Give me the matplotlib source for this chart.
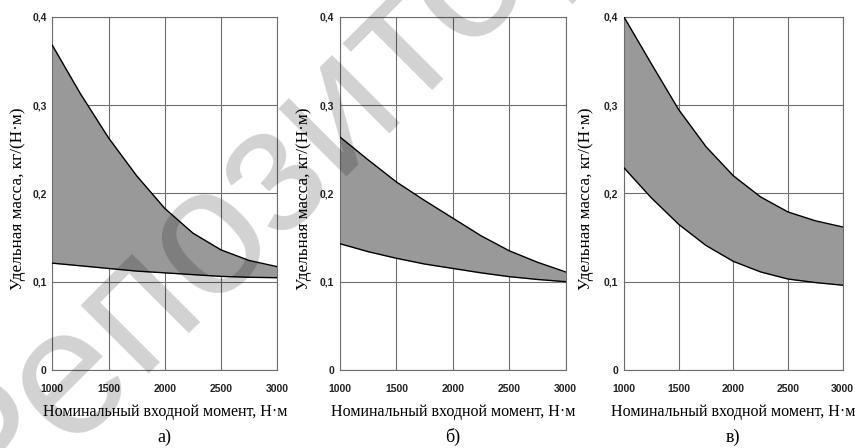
import matplotlib
matplotlib.use("Agg")
import matplotlib.pyplot as plt
import numpy as np

# torque points, N*m
torque = [1000, 1250, 1500, 1750, 2000, 2250, 2500, 2750, 3000]

# panel a)
upper_a = [0.368, 0.313, 0.263, 0.220, 0.183, 0.155, 0.136, 0.124, 0.117]
lower_a = [0.121, 0.118, 0.115, 0.112, 0.110, 0.108, 0.106, 0.105, 0.1045]

# panel б)
upper_b = [0.264, 0.238, 0.213, 0.192, 0.172, 0.152, 0.135, 0.122, 0.111]
lower_b = [0.143, 0.134, 0.1265, 0.120, 0.115, 0.110, 0.1057, 0.1025, 0.100]

# panel в)
upper_c = [0.400, 0.347, 0.295, 0.253, 0.220, 0.196, 0.179, 0.169, 0.162]
lower_c = [0.229, 0.195, 0.165, 0.141, 0.123, 0.111, 0.103, 0.099, 0.096]

x_ticks = [1000, 1500, 2000, 2500, 3000]
y_ticks = [0, 0.1, 0.2, 0.3, 0.4]
y_tick_labels = ["0", "0,1", "0,2", "0,3", "0,4"]

xlabel = "Номинальный входной момент, Н·м"
ylabel = "Удельная масса, кг/(Н·м)"
panel_names = ["а)", "б)", "в)"]
watermark = "Репозиторий"

serif = ["Liberation Serif", "DejaVu Serif"]
sans = ["Liberation Sans", "DejaVu Sans"]

fig = plt.figure(figsize=(8.55, 4.48), dpi=100)

W, H = 855, 448
boxes = [  # left, right pixel of each axes
  (52.3, 277.3),
  (340.0, 565.7),
  (624.0, 842.7),
]
top_px, bot_px = 17.0, 369.9

panels = [(upper_a, lower_a), (upper_b, lower_b), (upper_c, lower_c)]
ylab_x = [18, 304, 586]

for i, ((up, lo), (l, r)) in enumerate(zip(panels, boxes)):
  ax = fig.add_axes([l / W, 1 - bot_px / H, (r - l) / W, (bot_px - top_px) / H])
  ax.fill_between(torque, lo, up, color="#999999", lw=0, zorder=2)
  ax.plot(torque, up, color="black", lw=1.0, zorder=3)
  ax.plot(torque, lo, color="black", lw=1.0, zorder=3)

  ax.set_xlim(1000, 3000)
  ax.set_ylim(0, 0.4)
  ax.set_xticks(x_ticks)
  ax.set_yticks(y_ticks)
  ax.set_xticklabels([str(t) for t in x_ticks], family=sans, fontsize=7.5,
                     weight="bold", color="#222222")
  ax.set_yticklabels(y_tick_labels, family=sans, fontsize=7.5,
                     weight="bold", color="#222222")
  ax.tick_params(length=0, pad=4)
  ax.tick_params(axis="x", pad=10)
  ax.grid(True, color="#6e6e6e", lw=0.8, zorder=1)
  ax.set_axisbelow(True)
  for s in ax.spines.values():
    s.set_color("#6e6e6e")
    s.set_linewidth(0.8)

  cx = (l + r) / 2
  fig.text(cx / W, 1 - 411.5 / H, xlabel, family=serif, fontsize=11.5,
           ha="center", va="center")
  fig.text(cx / W, 1 - 437 / H, panel_names[i], family=serif, fontsize=13,
           ha="center", va="center")
  fig.text(ylab_x[i] / W, 1 - 199 / H, ylabel, family=serif, fontsize=12.3,
           rotation=90, ha="center", va="center")

# watermark over the whole figure (cut by the top edge, as in the source)
fig.text(332 / W, 1 - 108 / H, watermark, family=sans, fontsize=130,
         rotation=45, rotation_mode="anchor", color="black", alpha=0.18,
         ha="center", va="center", zorder=10)

fig.savefig("out.png", dpi=100)
